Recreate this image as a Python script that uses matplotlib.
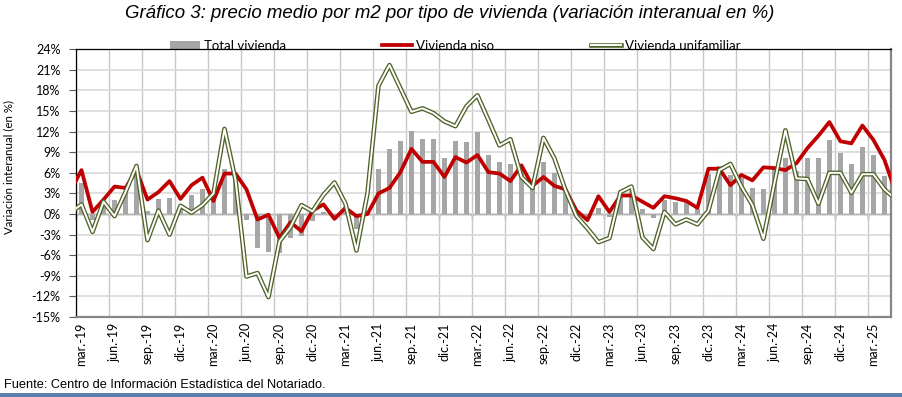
import numpy as np
import matplotlib
matplotlib.use("Agg")
import matplotlib.pyplot as plt
from matplotlib.patches import Patch, Rectangle
from matplotlib.lines import Line2D

# ---------------- data (monthly, feb.-19 ... may.-25) ----------------
tick_labels = ["mar.-19", "jun.-19", "sep.-19", "dic.-19",
               "mar.-20", "jun.-20", "sep.-20", "dic.-20",
               "mar.-21", "jun.-21", "sep.-21", "dic.-21",
               "mar.-22", "jun.-22", "sep.-22", "dic.-22",
               "mar.-23", "jun.-23", "sep.-23", "dic.-23",
               "mar.-24", "jun.-24", "sep.-24", "dic.-24",
               "mar.-25"]

total_vivienda = [3.0, 4.5, -0.9, 1.5, 2.0, 3.0, 6.8, 0.5, 2.2, 2.3, 1.0, 2.8,
                  3.7, 2.0, 6.6, 5.5, -0.8, -5.0, -5.5, -5.7, -3.5, -3.2, -1.0, 0.3,
                  -0.3, 1.0, -2.2, 0.5, 6.5, 9.5, 10.6, 12.1, 11.0, 11.0, 8.1, 10.6,
                  10.5, 12.0, 8.6, 7.6, 7.3, 6.5, 4.0, 7.6, 6.0, 3.7, 0.5, -0.5,
                  0.9, -0.4, 3.4, 3.3, 0.7, -0.6, 2.1, 1.7, 1.8, 0.8, 5.9, 7.0,
                  5.7, 5.2, 3.8, 3.7, 6.5, 8.1, 6.3, 8.2, 8.1, 10.8, 8.9, 7.3,
                  9.8, 8.6, 5.5, 4.0]

vivienda_piso = [3.4, 6.4, 0.3, 2.1, 4.0, 3.8, 6.4, 2.1, 3.2, 4.8, 2.2, 4.2,
                 5.3, 1.9, 5.9, 5.9, 3.6, -0.8, -0.1, -3.5, -1.2, -2.5, 0.5, 1.4,
                 -0.7, 0.9, -0.3, 0.0, 3.0, 3.8, 6.1, 9.5, 7.6, 7.6, 5.4, 8.3,
                 7.5, 8.6, 6.1, 5.9, 4.8, 7.1, 4.1, 5.4, 4.1, 3.6, 0.5, -0.9,
                 2.6, 0.3, 2.7, 2.7, 1.8, 0.9, 2.6, 2.3, 1.9, 0.9, 6.6, 6.6,
                 4.2, 5.7, 4.9, 6.8, 6.7, 6.4, 7.4, 9.6, 11.4, 13.4, 10.6, 10.3,
                 12.9, 10.8, 7.9, 3.3]

vivienda_unifamiliar = [0.2, 1.4, -2.6, 1.8, -0.3, 3.2, 7.0, -3.8, 0.5, -3.0, 1.2, 0.2,
                        1.3, 3.0, 12.4, 5.0, -9.1, -8.6, -12.1, -4.0, -1.9, 1.3, 0.4, 2.8,
                        4.6, 1.5, -5.3, 3.0, 18.7, 21.7, 18.3, 14.9, 15.4, 14.7, 13.5, 12.8,
                        15.7, 17.3, 13.7, 10.0, 10.9, 5.4, 3.8, 11.1, 8.1, 3.5, -0.3, -2.1,
                        -4.1, -3.5, 3.2, 4.0, -3.4, -5.1, 0.3, -1.5, -0.8, -1.5, 0.5, 6.4,
                        7.3, 4.0, 1.3, -3.6, 4.5, 12.2, 5.2, 5.1, 1.5, 6.0, 6.0, 3.1,
                        5.8, 5.8, 3.6, 2.2]

# ---------------- figure ----------------
W, H = 903, 397
fig = plt.figure(figsize=(W / 100, H / 100), dpi=100)
fig.patch.set_facecolor("white")

L, R, T, B = 76, 891, 49.3, 317
ax = fig.add_axes([L / W, 1 - B / H, (R - L) / W, (B - T) / H])
ax.set_facecolor("white")

x = np.arange(len(vivienda_piso)) - 1   # mar.-19 -> 0

ax.bar(x, total_vivienda, width=0.45, color="#a6a6a6", zorder=2)
ax.plot(x, vivienda_piso, color="#c00000", lw=2.7, zorder=4,
        solid_joinstyle="round", solid_capstyle="butt")
ax.plot(x, vivienda_unifamiliar, color="#4f6228", lw=3.3, zorder=5,
        solid_joinstyle="round", solid_capstyle="butt")
ax.plot(x, vivienda_unifamiliar, color="white", lw=1.4, zorder=6,
        solid_joinstyle="round", solid_capstyle="butt")

ax.set_xlim(-0.5, 73.6)
ax.set_ylim(-15, 24)

tfont = "Lato"
# y axis
yt = np.arange(-15, 25, 3)
ax.set_yticks(yt)
ax.set_yticklabels([f"{v}%" for v in yt], fontfamily=tfont, fontsize=9)
ax.tick_params(axis="y", direction="out", length=5, width=0.8, color="#595959", pad=6)
ax.yaxis.grid(True, color="#d9d9d9", lw=1.2, zorder=0)

# x axis: grid at quarter boundaries, labels at month centres
ax.set_xticks(np.arange(-0.5, 72, 3))
ax.set_xticklabels([])
ax.set_xticks(np.arange(0, 73, 3), minor=True)
ax.set_xticklabels(tick_labels, minor=True, rotation=90, fontfamily=tfont, fontsize=9)
ax.tick_params(axis="x", which="both", length=0, pad=4)
ax.xaxis.grid(True, which="major", color="#c8c8c8", lw=1.0, zorder=0)
ax.set_axisbelow(True)

for s in ("left", "top"):
    ax.spines[s].set_color("black")
    ax.spines[s].set_linewidth(0.9)
for s in ("bottom", "right"):
    ax.spines[s].set_color("#868686")
    ax.spines[s].set_linewidth(1.6)

# zero axis with small tick marks
sec = ax.secondary_xaxis(15 / 39)
sec.set_xticks(np.arange(-0.5, 72, 3))
sec.set_xticklabels([])
sec.tick_params(direction="out", length=3.5, width=0.9, color="black")
for s in sec.spines.values():
    s.set_color("black")
    s.set_linewidth(0.9)

ax.set_ylabel("Variación interanual (en %)", fontfamily=tfont, fontsize=8.3)
ax.yaxis.set_label_coords(-0.076, 0.56)

# title and source
fig.text(450 / W, 1 - 14 / H, "Gráfico 3: precio medio por m2 por tipo de vivienda (variación interanual en %)",
         ha="center", va="center", fontsize=13.4, style="italic", fontfamily="Liberation Sans")
fig.text(4 / W, 1 - 385 / H, "Fuente: Centro de Información Estadística del Notariado.",
         ha="left", va="center", fontsize=9.2, fontfamily="Liberation Sans")

# bottom band
fig.add_artist(Rectangle((0, 0), 1, 4 / H, transform=fig.transFigure,
                         facecolor="#5b7fa8", edgecolor="none"))

# legends (partially hidden behind the plot area, as in the reference)
h_total = Patch(facecolor="#a6a6a6", edgecolor="none")
h_piso = Line2D([], [], color="#c00000", lw=2.7)
h_uni = (Line2D([], [], color="#4f6228", lw=3.3), Line2D([], [], color="white", lw=1.4))
ly = 1 - 46 / H
for h, lab, x0 in ((h_total, "Total vivienda", 170),
                   (h_piso, "Vivienda piso", 382),
                   (h_uni, "Vivienda unifamiliar", 591)):
    lg = fig.legend([h], [lab], loc="center left", bbox_to_anchor=(x0 / W, ly),
                    frameon=False, borderpad=0, borderaxespad=0,
                    handlelength=2.3, handletextpad=0.25,
                    prop={"family": tfont, "size": 9.5})
    lg.set_zorder(-1)

fig.savefig("out.png", dpi=100)
